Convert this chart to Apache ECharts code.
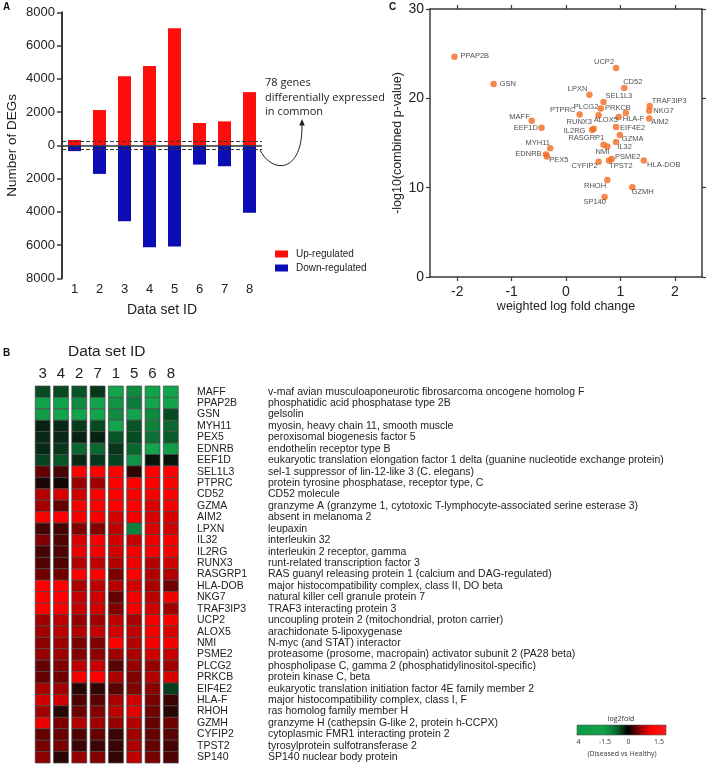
<!DOCTYPE html>
<html><head><meta charset="utf-8">
<script src="https://cdn.jsdelivr.net/npm/echarts@6/dist/echarts.min.js"></script>
<style>html,body{margin:0;padding:0;background:#fff}#c{width:708px;height:767px}</style>
</head><body><div id="c"></div>
<script>
// ---------- Panel A data ----------
const dataSetIds = ['1','2','3','4','5','6','7','8'];
const upRegulatedCounts = [320, 2120, 4150, 4770, 7040, 1340, 1440, 3200];
const downRegulatedCounts = [350, 1720, 4570, 6130, 6090, 1160, 1260, 4050];
const commonBandHalfWidth = 220;
const commonGenesNote = '78 genes\ndifferentially expressed\nin common';

// ---------- Panel C data ----------
const scatterGenes = ['PPAP2B','GSN','UCP2','CD52','LPXN','SEL1L3','TRAF3IP3','NKG7','AIM2','PLCG2','PRKCB','PTPRC','ALOX5','HLA-F','MAFF','EEF1D','RUNX3','IL2RG','EIF4E2','GZMA','RASGRP1','NMI','IL32','MYH11','EDNRB','PEX5','PSME2','TPST2','CYFIP2','HLA-DOB','RHOH','GZMH','SP140'];
const weightedLogFoldChange = [-2.05,-1.33,0.92,1.07,0.43,0.69,1.54,1.53,1.53,0.64,1.10,0.25,0.60,0.97,-0.63,-0.45,0.51,0.48,0.92,0.99,0.69,0.76,0.92,-0.29,-0.37,-0.35,0.84,0.79,0.60,1.43,0.76,1.22,0.71];
const negLog10CombinedP = [24.65,21.6,23.4,21.15,20.4,19.6,19.15,18.6,17.75,18.85,18.35,18.2,18.1,17.9,17.5,16.7,16.6,16.45,16.8,15.9,14.8,14.6,15.1,14.4,13.7,13.5,13.2,13.05,12.9,13.05,10.85,10.05,8.95];
const scatterXTicks = [-2,-1,0,1,2];

// ---------- Panel B data ----------
const heatmapColumns = ['3','4','2','7','1','5','6','8'];
const heatmapGenes = ['MAFF','PPAP2B','GSN','MYH11','PEX5','EDNRB','EEF1D','SEL1L3','PTPRC','CD52','GZMA','AIM2','LPXN','IL32','IL2RG','RUNX3','RASGRP1','HLA-DOB','NKG7','TRAF3IP3','UCP2','ALOX5','NMI','PSME2','PLCG2','PRKCB','EIF4E2','HLA-F','RHOH','GZMH','CYFIP2','TPST2','SP140'];
const geneDescriptions = [
 'v-maf avian musculoaponeurotic fibrosarcoma oncogene homolog F',
 'phosphatidic acid phosphatase type 2B',
 'gelsolin',
 'myosin, heavy chain 11, smooth muscle',
 'peroxisomal biogenesis factor 5',
 'endothelin receptor type B',
 'eukaryotic translation elongation factor 1 delta (guanine nucleotide exchange protein)',
 'sel-1 suppressor of lin-12-like 3 (C. elegans)',
 'protein tyrosine phosphatase, receptor type, C',
 'CD52 molecule',
 'granzyme A (granzyme 1, cytotoxic T-lymphocyte-associated serine esterase 3)',
 'absent in melanoma 2',
 'leupaxin',
 'interleukin 32',
 'interleukin 2 receptor, gamma',
 'runt-related transcription factor 3',
 'RAS guanyl releasing protein 1 (calcium and DAG-regulated)',
 'major histocompatibility complex, class II, DO beta',
 'natural killer cell granule protein 7',
 'TRAF3 interacting protein 3',
 'uncoupling protein 2 (mitochondrial, proton carrier)',
 'arachidonate 5-lipoxygenase',
 'N-myc (and STAT) interactor',
 'proteasome (prosome, macropain) activator subunit 2 (PA28 beta)',
 'phospholipase C, gamma 2 (phosphatidylinositol-specific)',
 'protein kinase C, beta',
 'eukaryotic translation initiation factor 4E family member 2',
 'major histocompatibility complex, class I, F',
 'ras homolog family member H',
 'granzyme H (cathepsin G-like 2, protein h-CCPX)',
 'cytoplasmic FMR1 interacting protein 2',
 'tyrosylprotein sulfotransferase 2',
 'SP140 nuclear body protein'
];
// log2 fold change, rows = heatmapGenes, columns = heatmapColumns
const log2fold = [
 [-0.5,-0.5,-0.6,-0.35,-1.5,-1.2,-1.5,-1.5],
 [-1.6,-1.6,-1.2,-1.5,-1.3,-1.0,-1.5,-1.5],
 [-1.4,-1.6,-1.6,-1.5,-1.2,-1.5,-1.2,-0.5],
 [-0.2,-0.25,-0.4,-0.5,-1.5,-0.6,-1.1,-0.8],
 [-0.25,-0.25,-0.2,-0.2,-0.6,-0.5,-0.9,-0.7],
 [-0.25,-0.35,-0.8,-0.8,-0.35,-0.8,-1.5,-1.4],
 [-0.45,-0.6,-0.25,-0.35,-0.45,-1.3,-0.1,-0.1],
 [0.45,0.3,1.5,1.5,1.5,0.2,1.5,1.5],
 [0.1,0.05,0.7,0.75,1.5,1.5,1.5,1.5],
 [0.85,1.1,1.0,1.5,1.5,1.4,1.4,1.5],
 [0.75,0.45,1.4,1.5,1.5,1.5,1.1,1.4],
 [1.5,1.5,1.4,1.4,1.05,1.4,1.1,1.1],
 [0.3,0.3,0.6,0.6,0.9,-1.1,1.1,1.0],
 [0.6,0.35,1.1,1.4,1.0,0.95,1.3,1.4],
 [0.3,0.35,1.3,1.4,1.0,1.4,1.4,1.4],
 [0.35,0.35,0.85,0.9,0.85,1.3,0.85,1.0],
 [0.5,0.5,1.5,1.5,0.55,1.5,0.85,0.85],
 [1.5,1.5,0.8,0.9,0.85,1.0,0.8,0.5],
 [1.5,1.5,0.95,1.0,0.45,1.4,0.9,1.4],
 [1.5,1.4,0.95,1.0,0.6,1.4,1.0,0.75],
 [0.75,0.9,0.7,0.75,0.9,0.8,1.4,1.4],
 [0.75,0.9,0.85,0.95,1.0,0.9,1.4,1.1],
 [0.65,0.75,0.55,0.6,1.5,0.85,1.4,1.4],
 [0.7,0.75,0.6,0.65,0.75,0.8,1.0,0.95],
 [0.45,0.6,0.9,0.95,0.4,0.7,0.7,0.75],
 [0.45,0.5,1.4,1.5,0.8,0.6,0.85,1.1],
 [0.8,0.75,0.15,0.2,0.4,0.6,0.65,-0.4],
 [1.0,1.0,0.35,0.4,0.8,1.0,0.55,0.25],
 [0.75,0.15,0.5,0.6,0.9,1.2,0.5,0.15],
 [1.3,0.55,0.85,0.75,0.7,0.85,0.45,0.5],
 [0.45,0.45,0.35,0.45,0.25,0.75,0.45,0.4],
 [0.55,0.55,0.25,0.25,0.25,0.8,0.45,0.3],
 [0.65,0.15,0.7,0.6,0.2,0.9,0.55,0.35]
];
const colorbarTickLabels = ['4','-1.5','0','1.5'];

// ---------- styling (not data) ----------
const labelPlacement = {
 'PPAP2B':[6,-1,'left'],'GSN':[6,0,'left'],'UCP2':[-2,-6,'right'],'CD52':[-1,-6.5,'left'],
 'LPXN':[-2,-6,'right'],'SEL1L3':[2,-6,'left'],'TRAF3IP3':[2,-5,'left'],'NKG7':[4,0,'left'],
 'AIM2':[2,4,'left'],'PRKCB':[5,-5,'right'],'PLCG2':[-2.5,-2,'right'],'PTPRC':[-4.3,-4.3,'right'],
 'ALOX5':[-5,5,'left'],'HLA-F':[4,2,'left'],'MAFF':[-2,-3.7,'right'],'EEF1D':[-3.7,0,'right'],
 'RUNX3':[-1.7,-6.7,'right'],'IL2RG':[-6.7,0.7,'right'],'EIF4E2':[4,0.7,'left'],'GZMA':[2,4,'left'],
 'RASGRP1':[0.7,-6.7,'right'],'NMI':[2,5.7,'right'],'IL32':[1.3,5,'left'],'MYH11':[-0.3,-5.7,'right'],
 'EDNRB':[-4.3,-0.7,'right'],'PEX5':[2.3,4,'left'],'PSME2':[3.3,-2.3,'left'],'TPST2':[0.3,5.3,'left'],
 'CYFIP2':[-1,3.7,'right'],'HLA-DOB':[3.3,4.7,'left'],'RHOH':[-1.3,5.7,'right'],'GZMH':[-0.7,5,'left'],
 'SP140':[1.3,5,'right']
};
const FONT = 'Liberation Sans, Arial, Helvetica, sans-serif';
const AX = '#3a3a3a';

const scatterData = scatterGenes.map((g, i) => {
  const p = labelPlacement[g] || [5, 0, 'left'];
  return {name: g, value: [weightedLogFoldChange[i], negLog10CombinedP[i]],
          label: {align: p[2], offset: [p[0], p[1]]}};
});
const heatData = [];
log2fold.forEach((row, r) => row.forEach((v, c) => heatData.push([c, r, v])));

const chart = echarts.init(document.getElementById('c'), null, {renderer: 'canvas'});
const option = {
  animation: false,
  backgroundColor: '#fff',
  textStyle: {fontFamily: FONT},
  legend: {
    data: ['Up-regulated', 'Down-regulated'], orient: 'vertical', left: 270, top: 244,
    icon: 'rect', itemWidth: 13, itemHeight: 7, itemGap: 4,
    textStyle: {fontSize: 10, color: '#222', padding: [0, 0, 0, 3]}, selectedMode: false
  },
  grid: [
    {left: 62, top: 12.3, width: 200, height: 266},
    {left: 430, top: 9, width: 272, height: 268},
    {left: 33.5, top: 386, width: 146.5, height: 377}
  ],
  visualMap: {
    type: 'continuous', show: false, min: -4, max: 1.5, dimension: 2, seriesIndex: 3,
    inRange: {color: ['#0e9a45','#0e9a45','#10a04a','#10a04a','#12a44c','#12a44c','#0c7a38','#064a22','#080808','#700000','#d00000','#ff0000']}
  },
  xAxis: [
    {gridIndex: 0, type: 'category', data: dataSetIds,
     axisLine: {show: false, onZero: false}, axisTick: {show: false},
     axisLabel: {fontSize: 13, color: '#222', margin: 5},
     name: 'Data set ID', nameLocation: 'middle', nameGap: 25,
     nameTextStyle: {fontSize: 14, color: '#222'}},
    {gridIndex: 1, type: 'value', min: -2.5, max: 2.5,
     axisLine: {show: true, onZero: false, lineStyle: {color: AX, width: 1.5}},
     axisTick: {show: true, length: 4, customValues: scatterXTicks, lineStyle: {color: AX, width: 1.2}},
     axisLabel: {fontSize: 14, color: '#222', margin: 8, customValues: scatterXTicks},
     splitLine: {show: false},
     name: 'weighted log fold change', nameLocation: 'middle', nameGap: 23,
     nameTextStyle: {fontSize: 12.5, color: '#222'}},
    {gridIndex: 1, type: 'value', position: 'top', min: -2.5, max: 2.5,
     axisLine: {show: true, onZero: false, lineStyle: {color: AX, width: 1.5}},
     axisTick: {show: true, length: 4, customValues: scatterXTicks, lineStyle: {color: AX, width: 1.2}},
     axisLabel: {show: false}, splitLine: {show: false}},
    {gridIndex: 2, type: 'category', position: 'top', data: heatmapColumns,
     axisLine: {show: false}, axisTick: {show: false},
     axisLabel: {fontSize: 15, color: '#222', margin: 5, interval: 0},
     name: 'Data set ID', nameLocation: 'middle', nameGap: 26,
     nameTextStyle: {fontSize: 15.5, color: '#222'}}
  ],
  yAxis: [
    {gridIndex: 0, type: 'value', min: -8000, max: 8000, interval: 2000,
     axisLine: {show: true, onZero: false, lineStyle: {color: AX, width: 2}},
     axisTick: {show: true, length: 5, lineStyle: {color: AX, width: 1.5}},
     axisLabel: {fontSize: 13, color: '#222', margin: 7, formatter: v => String(Math.abs(v))},
     splitLine: {show: false},
     name: 'Number of DEGs', nameLocation: 'middle', nameGap: 43,
     nameTextStyle: {fontSize: 13.5, color: '#222'}},
    {gridIndex: 1, type: 'value', min: 0, max: 30, interval: 10,
     axisLine: {show: true, onZero: false, lineStyle: {color: AX, width: 1.5}},
     axisTick: {show: true, length: 4, lineStyle: {color: AX, width: 1.2}},
     axisLabel: {fontSize: 14, color: '#222', margin: 6},
     splitLine: {show: false},
     name: '-log10(combined p-value)', nameLocation: 'middle', nameGap: 20,
     nameTextStyle: {fontSize: 12.5, color: '#222'}},
    {gridIndex: 1, type: 'value', position: 'right', min: 0, max: 30, interval: 10,
     axisLine: {show: true, onZero: false, lineStyle: {color: AX, width: 1.5}},
     axisTick: {show: true, length: 4, lineStyle: {color: AX, width: 1.2}},
     axisLabel: {show: false}, splitLine: {show: false}},
    {gridIndex: 2, type: 'category', data: heatmapGenes, inverse: true, position: 'right',
     axisLine: {show: false}, axisTick: {show: false},
     axisLabel: {margin: 17, align: 'left', interval: 0, hideOverlap: false,
       formatter: (v, i) => '{a|' + v + '}{b|' + geneDescriptions[i] + '}',
       rich: {a: {width: 71, fontSize: 10.5, color: '#222', fontFamily: FONT},
              b: {fontSize: 10.5, color: '#222', fontFamily: FONT}}}}
  ],
  series: [
    {type: 'bar', name: 'Up-regulated', xAxisIndex: 0, yAxisIndex: 0, data: upRegulatedCounts,
     barWidth: 13, barGap: '-100%', itemStyle: {color: '#ff0d0d'},
     markLine: {silent: true, symbol: 'none', label: {show: false},
       data: [
         {yAxis: 0, lineStyle: {type: 'solid', color: '#333', width: 1.5}},
         {yAxis: commonBandHalfWidth, lineStyle: {type: [4, 2], color: '#333', width: 1}},
         {yAxis: -commonBandHalfWidth, lineStyle: {type: [4, 2], color: '#333', width: 1}}
       ]}},
    {type: 'bar', name: 'Down-regulated', xAxisIndex: 0, yAxisIndex: 0,
     data: downRegulatedCounts.map(v => -v), barWidth: 13, itemStyle: {color: '#0c0cb4'}},
    {type: 'scatter', xAxisIndex: 1, yAxisIndex: 1, data: scatterData, symbolSize: 6.5,
     itemStyle: {color: '#f26a21'},
     label: {show: true, position: 'inside', formatter: '{b}', fontSize: 7.5, color: '#222',
             verticalAlign: 'middle', fontFamily: FONT}},
    {type: 'custom', xAxisIndex: 3, yAxisIndex: 3, data: heatData, encode: {x: 0, y: 1},
     renderItem: function (params, api) {
       const p = api.coord([api.value(0), api.value(1)]);
       const s = api.size([1, 1]);
       const inset = 1.7;
       return {type: 'rect',
         shape: {x: p[0] - s[0] / 2 + inset, y: p[1] - s[1] / 2, width: s[0] - 2 * inset, height: s[1]},
         style: {fill: api.visual('color'), stroke: '#4a4a4a', lineWidth: 0.7}};
     }}
  ],
  graphic: [
    {type: 'text', left: 3, top: 2, style: {text: 'A', fontSize: 10, fontWeight: 'bold', fill: '#111', fontFamily: FONT}},
    {type: 'text', left: 3, top: 348, style: {text: 'B', fontSize: 10, fontWeight: 'bold', fill: '#111', fontFamily: FONT}},
    {type: 'text', left: 389, top: 2, style: {text: 'C', fontSize: 10, fontWeight: 'bold', fill: '#111', fontFamily: FONT}},
    {type: 'text', left: 265, top: 76, style: {text: commonGenesNote, fontSize: 11, lineHeight: 14.5, fill: '#222', fontFamily: 'Open Sans, sans-serif'}},
    {type: 'bezierCurve', shape: {x1: 260, y1: 150, cpx1: 272, cpy1: 174, cpx2: 303, cpy2: 174, x2: 302, y2: 124},
     style: {stroke: '#222', lineWidth: 1, fill: null}},
    {type: 'polygon', shape: {points: [[302, 119], [299.2, 125.5], [304.8, 125.5]]}, style: {fill: '#222'}},
    {type: 'text', x: 621, y: 719, style: {text: 'log2fold', fontSize: 7, fill: '#333', align: 'center', verticalAlign: 'middle', fontFamily: 'Open Sans, sans-serif'}},
    {type: 'rect', shape: {x: 577, y: 725, width: 89, height: 10},
     style: {stroke: '#555', lineWidth: 0.6,
       fill: {type: 'linear', x: 0, y: 0, x2: 1, y2: 0, colorStops: [
         {offset: 0, color: '#0e9a45'}, {offset: 0.3, color: '#11a34a'}, {offset: 0.45, color: '#0a6630'},
         {offset: 0.57, color: '#000000'}, {offset: 0.72, color: '#a00000'}, {offset: 0.83, color: '#ff0000'},
         {offset: 1, color: '#ff1a1a'}]}}},
    {type: 'text', x: 578.5, y: 742, style: {text: colorbarTickLabels[0], fontSize: 7, fill: '#333', align: 'center', verticalAlign: 'middle', fontFamily: 'Open Sans, sans-serif'}},
    {type: 'text', x: 605, y: 742, style: {text: colorbarTickLabels[1], fontSize: 7, fill: '#333', align: 'center', verticalAlign: 'middle', fontFamily: 'Open Sans, sans-serif'}},
    {type: 'text', x: 628.5, y: 742, style: {text: colorbarTickLabels[2], fontSize: 7, fill: '#333', align: 'center', verticalAlign: 'middle', fontFamily: 'Open Sans, sans-serif'}},
    {type: 'text', x: 659, y: 742, style: {text: colorbarTickLabels[3], fontSize: 7, fill: '#333', align: 'center', verticalAlign: 'middle', fontFamily: 'Open Sans, sans-serif'}},
    {type: 'text', x: 622, y: 754, style: {text: '(Diseased vs Healthy)', fontSize: 7, fill: '#333', align: 'center', verticalAlign: 'middle', fontFamily: 'Open Sans, sans-serif'}}
  ]
};
chart.setOption(option);
</script></body></html>
